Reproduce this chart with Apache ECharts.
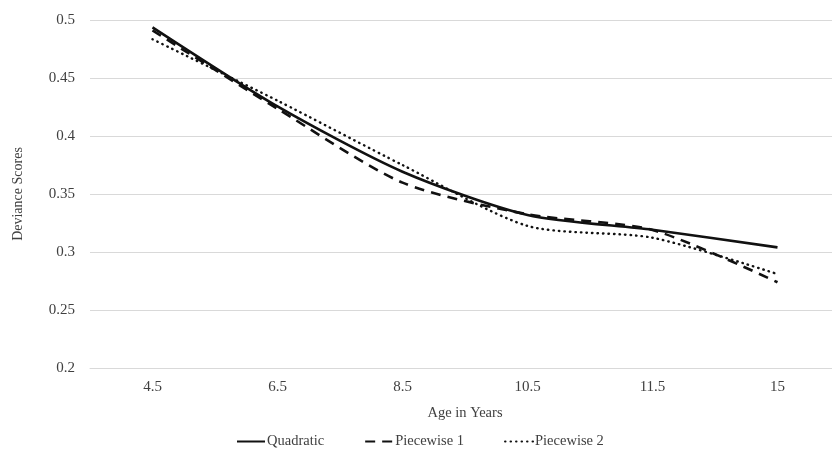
<!DOCTYPE html>
<html>
<head>
<meta charset="utf-8">
<script src="https://cdn.jsdelivr.net/npm/echarts@6/dist/echarts.min.js"></script>
<style>html,body{margin:0;padding:0;background:#fff;overflow:hidden;width:832px;height:458px}#c{width:840px;height:458px}</style>
</head>
<body>
<div id="c"></div>
<script>
const categories = ['4.5', '6.5', '8.5', '10.5', '11.5', '15'];
const quadratic = [0.4937, 0.4255, 0.3692, 0.3319, 0.3192, 0.304];
const piecewise1 = [0.491, 0.4235, 0.3598, 0.3325, 0.319, 0.2739];
const piecewise2 = [0.4834, 0.4305, 0.375, 0.3225, 0.3123, 0.281];
const yTicks = { min: 0.2, max: 0.5, interval: 0.05 };

const font = '"Liberation Serif", "Times New Roman", serif';
const txt = '#404040';
const chart = echarts.init(document.getElementById('c'), null, { renderer: 'canvas' });
const base = { type: 'line', symbol: 'none', smooth: 0.25 };
chart.setOption({
  animation: false,
  backgroundColor: '#fff',
  textStyle: { fontFamily: font },
  grid: { left: 90, top: 20, width: 750, height: 348, containLabel: false },
  legend: {
    top: 434, left: 236, padding: 0, itemWidth: 28, itemHeight: 10, itemGap: 40,
    itemStyle: { opacity: 0 },
    textStyle: { fontFamily: font, fontSize: 14.5, color: txt, padding: [0, 0, 0, -3] },
    data: ['Quadratic', 'Piecewise 1', 'Piecewise 2']
  },
  xAxis: {
    type: 'category', data: categories, boundaryGap: true,
    name: 'Age in Years', nameLocation: 'middle', nameGap: 38,
    nameTextStyle: { fontFamily: font, fontSize: 14.5, color: txt },
    axisLine: { show: true, lineStyle: { color: '#d9d9d9', width: 1 } },
    axisTick: { show: false },
    axisLabel: { fontFamily: font, fontSize: 15, color: txt, margin: 12 }
  },
  yAxis: {
    type: 'value', min: yTicks.min, max: yTicks.max, interval: yTicks.interval,
    name: 'Deviance Scores', nameLocation: 'middle', nameGap: 65, nameRotate: 90,
    nameTextStyle: { fontFamily: font, fontSize: 14, color: txt },
    axisLine: { show: false }, axisTick: { show: false },
    axisLabel: { fontFamily: font, fontSize: 15, color: txt, margin: 15,
      formatter: v => String(parseFloat(v.toFixed(2))) },
    splitLine: { lineStyle: { color: '#d9d9d9', width: 1 } }
  },
  series: [
    Object.assign({}, base, { name: 'Quadratic', data: quadratic, z: 3,
      lineStyle: { color: '#111', width: 2.6, type: 'solid' }, itemStyle: { color: '#111' } }),
    Object.assign({}, base, { name: 'Piecewise 1', data: piecewise1, z: 2,
      lineStyle: { color: '#111', width: 2.6, type: [10, 7] }, itemStyle: { color: '#111' } }),
    Object.assign({}, base, { name: 'Piecewise 2', data: piecewise2, z: 1,
      lineStyle: { color: '#111', width: 2.4, type: [0.5, 5], cap: 'round' }, itemStyle: { color: '#111' } })
  ]
});
</script>
</body>
</html>
